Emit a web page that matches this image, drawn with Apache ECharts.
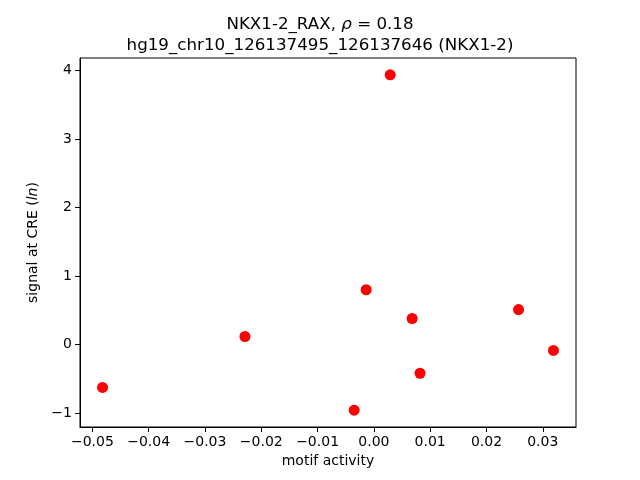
<!DOCTYPE html>
<html>
<head>
<meta charset="utf-8">
<script src="https://cdn.jsdelivr.net/npm/echarts@6/dist/echarts.min.js"></script>
<style>html,body{margin:0;padding:0;background:#fff}#c{width:640px;height:480px}</style>
</head>
<body>
<div id="c"></div>
<script>
var motifActivity = [0.0029, -0.00137, 0.0068, 0.0257, 0.0319, 0.0082, -0.0035, -0.0482, -0.0229];
var signalAtCRE = [3.94, 0.80, 0.38, 0.51, -0.087, -0.42, -0.96, -0.627, 0.117];
var xTicks = [-0.05, -0.04, -0.03, -0.02, -0.01, 0.0, 0.01, 0.02, 0.03];
var yTicks = [-1, 0, 1, 2, 3, 4];

var pts = motifActivity.map(function (x, i) { return [x, signalAtCRE[i]]; });
var font = 'DejaVu Sans';
function fmtX(v) { var s = v.toFixed(2); if (Math.abs(v) < 1e-9) s = '0.00'; return s.replace('-', '\u2212'); }
function fmtY(v) { return String(Math.round(v)).replace('-', '\u2212'); }

var chart = echarts.init(document.getElementById('c'), null, { renderer: 'canvas' });
chart.setOption({
  animation: false,
  backgroundColor: '#fff',
  title: {
    text: '{n|NKX1-2_RAX, }{i|\u03C1}{n| = 0.18}\n{n|hg19_chr10_126137495_126137646 (NKX1-2)}',
    left: 'center',
    top: 9,
    textStyle: {
      fontFamily: font, fontSize: 16.7, fontWeight: 'normal', color: '#000', lineHeight: 21,
      rich: {
        n: { fontFamily: font, fontSize: 16.7, color: '#000', lineHeight: 21 },
        i: { fontFamily: font, fontSize: 16.7, fontStyle: 'italic', color: '#000', lineHeight: 21 }
      }
    }
  },
  grid: { left: 80, right: 64, top: 58, bottom: 53, show: true, borderColor: '#000', borderWidth: 1, backgroundColor: 'transparent' },
  xAxis: {
    type: 'value', min: -0.0522, max: 0.0359,
    name: 'motif activity', nameLocation: 'middle', nameGap: 27,
    nameTextStyle: { fontFamily: font, fontSize: 14, color: '#000' },
    axisLine: { show: true, onZero: false, lineStyle: { color: '#000', width: 1 } },
    axisTick: { show: true, length: 5, lineStyle: { color: '#000' }, customValues: xTicks },
    axisLabel: { fontFamily: font, fontSize: 14, color: '#000', margin: 8, customValues: xTicks, formatter: fmtX },
    splitLine: { show: false }
  },
  yAxis: {
    type: 'value', min: -1.205, max: 4.185,
    name: '{n|signal at CRE (}{i|ln}{n|)}', nameLocation: 'middle', nameGap: 40,
    nameTextStyle: {
      fontFamily: font, fontSize: 14, color: '#000',
      rich: {
        n: { fontFamily: font, fontSize: 14, color: '#000' },
        i: { fontFamily: font, fontSize: 14, fontStyle: 'italic', color: '#000' }
      }
    },
    axisLine: { show: true, onZero: false, lineStyle: { color: '#000', width: 1 } },
    axisTick: { show: true, length: 5, lineStyle: { color: '#000' }, customValues: yTicks },
    axisLabel: { fontFamily: font, fontSize: 14, color: '#000', margin: 8, customValues: yTicks, formatter: fmtY },
    splitLine: { show: false }
  },
  series: [{
    type: 'scatter', data: pts, symbol: 'circle', symbolSize: 11,
    itemStyle: { color: '#ff0000', opacity: 1 }
  }]
});
</script>
</body>
</html>
